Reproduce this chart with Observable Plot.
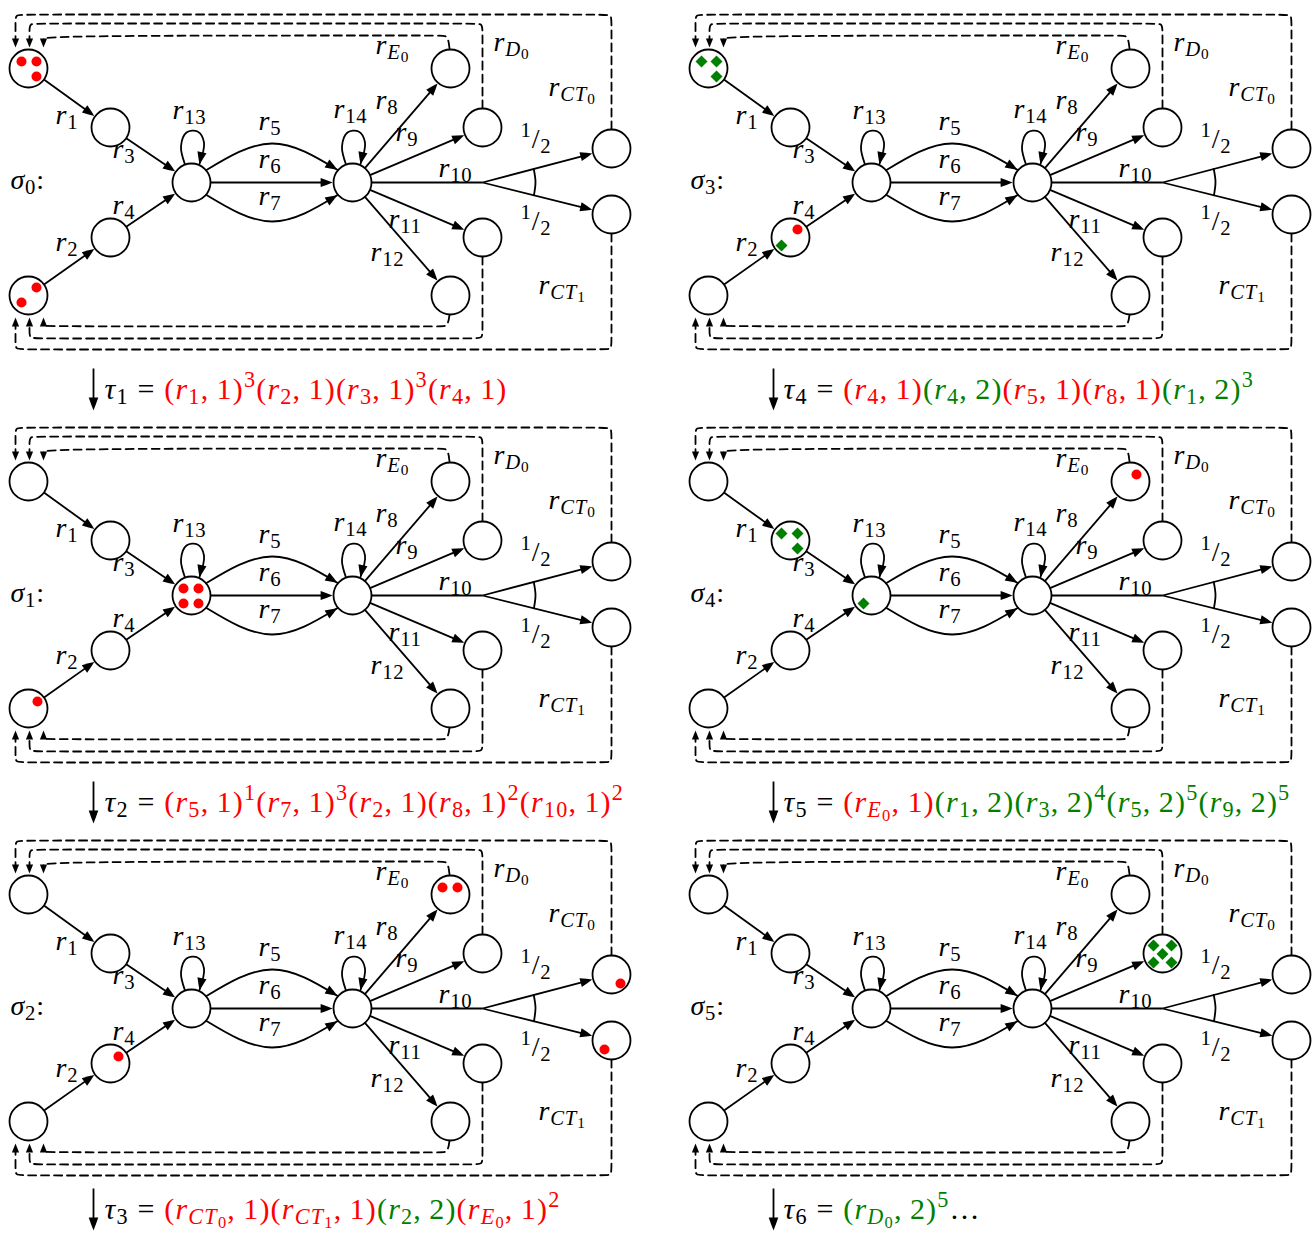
<!DOCTYPE html>
<html><head><meta charset="utf-8">
<script src="https://cdn.jsdelivr.net/npm/d3@7"></script>
<script src="https://cdn.jsdelivr.net/npm/@observablehq/plot@0.6"></script>
<style>
html,body{margin:0;padding:0;background:#fff;}
svg{display:block;}
</style>
</head><body><div id="chart"></div>
<script>
// ---------------- data ----------------
const RED = "#ff0000", GREEN = "#008000";
const FONT = "'Liberation Serif','Times New Roman',serif";

// places of one net (local coordinates of a panel)
const nodeIds = ["A","B","C","D","E","F","G","H","I","J","K","L"];
const nodeX   = [28, 110, 191, 110, 28, 352, 450, 482, 482, 450, 611, 611];
const nodeY   = [68, 127, 182, 237, 295, 182, 68, 127, 237, 295, 148, 214];

// straight reaction arcs
const edgeFrom = ["A","B","E","D","C","F","F","F","F"];
const edgeTo   = ["B","C","D","C","F","G","H","I","J"];
// bent arcs C -> F (r5 above, r7 below)
const bentSign = [-1, 1];
// self loops r13, r14
const loopNodes = ["C","F"];
const loopDX = [-6.5, -10.5, -5, 6, 12.5, 8];
const loopDY = [-18, -36, -50, -51, -40, -18.5];
// r10 split point and its two branches
const splitX = 482, splitY = 182;
const splitTargets = ["K","L"];

// dashed feedback paths (local coordinates)
const dashPaths = [
  [[611,129],[611,22],[611,14],[603,14],[23,14],[15,14],[15,22],[15,39]],
  [[482,108],[482,31],[482,23],[474,23],[37,23],[29,23],[29,31],[29,39]],
  [[449,48],[448,39],[445,35],[440,35],[43,35],[43,39]],
  [[611,233],[611,341],[611,349],[603,349],[23,349],[15,349],[15,341],[15,325]],
  [[482,256],[482,330],[482,338],[474,338],[37,338],[29,338],[29,330],[29,325]],
  [[449,314],[448,322],[445,326],[440,326],[43,326],[43,325]]
];
const dashTipX = [15, 29, 43, 15, 29, 43];
const dashTipY = [47, 47, 47, 317, 317, 317];
const dashTipDir = [180, 180, 180, 0, 0, 0];

// labels of a net
const labelText = ["r_{1}","r_{3}","r_{2}","r_{4}","r_{13}","r_{5}","r_{6}","r_{7}","r_{14}","r_{8}","r_{9}","r_{10}","r_{11}","r_{12}","r_{E_{0}}","r_{D_{0}}","r_{CT_{0}}","r_{CT_{1}}","^{1}/_{2}","^{1}/_{2}"];
const labelX = [55,112,55,112,172,258,258,258,333,375,395,438,388,370,375,493,548,538,520,520];
const labelY = [123,157,250,213,118,129,167,204,117,108,140,176,227,260,53,50,95,293,147,229];

// panels (markings)
const panelName = ["σ_{0}:","σ_{1}:","σ_{2}:","σ_{3}:","σ_{4}:","σ_{5}:"];
const panelCol = [0,0,0,1,1,1];
const panelRow = [0,1,2,0,1,2];
const colOffset = [0, 680];
const rowOffset = [0, 413, 826];

// tokens: [panel, place, kind, dx, dy]
const tokens = [
  [0,"A","dot",-7,-7],[0,"A","dot",8,-7],[0,"A","dot",8,8],
  [0,"E","dot",8,-8],[0,"E","dot",-7,7],
  [1,"C","dot",-8,-7],[1,"C","dot",7,-7],[1,"C","dot",-8,8],[1,"C","dot",7,8],
  [1,"E","dot",9,-7],
  [2,"G","dot",-8,-7],[2,"G","dot",7,-7],
  [2,"D","dot",8,-7],
  [2,"K","dot",9,9],[2,"L","dot",-7,9],
  [3,"A","diamond",-7,-7],[3,"A","diamond",8,-7],[3,"A","diamond",8,8],
  [3,"D","dot",7,-8],[3,"D","diamond",-9,8],
  [4,"B","diamond",-9,-7],[4,"B","diamond",7,-7],[4,"B","diamond",7,8],
  [4,"C","diamond",-8,8],
  [4,"G","dot",6,-7],
  [5,"H","diamond",-9,-8],[5,"H","diamond",9,-8],[5,"H","diamond",0,0.5],[5,"H","diamond",-9,9],[5,"H","diamond",9,9]
];

// transitions between markings
const formulaText = [
  "#Kτ_{1} = #R(r_{1},\u20091)^{3}(r_{2},\u20091)(r_{3},\u20091)^{3}(r_{4},\u20091)",
  "#Kτ_{2} = #R(r_{5},\u20091)^{1}(r_{7},\u20091)^{3}(r_{2},\u20091)(r_{8},\u20091)^{2}(r_{10},\u20091)^{2}",
  "#Kτ_{3} = #R(r_{CT_{0}},\u20091)(r_{CT_{1}},\u20091)#G(r_{2},\u20092)#R(r_{E_{0}},\u20091)^{2}",
  "#Kτ_{4} = #R(r_{4},\u20091)#G(r_{4},\u20092)#R(r_{5},\u20091)(r_{8},\u20091)#G(r_{1},\u20092)^{3}",
  "#Kτ_{5} = #R(r_{E_{0}},\u20091)#G(r_{1},\u20092)(r_{3},\u20092)^{4}(r_{5},\u20092)^{5}(r_{9},\u20092)^{5}",
  "#Kτ_{6} = #G(r_{D_{0}},\u20092)^{5}#K…"
];
const formulaCol = [0,0,0,1,1,1];
const formulaRow = [0,1,2,0,1,2];
const formulaX = [104, 783];
const formulaArrowX = [93, 773];
const formulaBase = [398, 811, 1218];

// ---------------- geometry helpers ----------------
const R = 19;
const node = id => { const i = nodeIds.indexOf(id); return [nodeX[i], nodeY[i]]; };
const toward = (c, q, r) => { const dx = q[0]-c[0], dy = q[1]-c[1], d = Math.hypot(dx, dy); return [c[0]+dx/d*r, c[1]+dy/d*r]; };
const rot = (dx, dy) => Math.atan2(dx, -dy) * 180 / Math.PI;

const circles = [], links = [], curves = [], heads = [], smallHeads = [], dashes = [], labels = [], dots = [], diamonds = [];
let cid = 0;
panelName.forEach((name, p) => {
  const ox = colOffset[panelCol[p]], oy = rowOffset[panelRow[p]];
  nodeIds.forEach((id, i) => circles.push({x: nodeX[i]+ox, y: nodeY[i]+oy}));
  edgeFrom.forEach((f, i) => {
    const a = node(f), b = node(edgeTo[i]);
    const s = toward(a, b, R), t = toward(b, a, R + 0.9);
    const d = Math.hypot(t[0]-s[0], t[1]-s[1]), ux = (t[0]-s[0])/d, uy = (t[1]-s[1])/d;
    links.push({x1: s[0]+ox, y1: s[1]+oy, x2: t[0]-ux*5+ox, y2: t[1]-uy*5+oy});
    heads.push({x: t[0]+ox, y: t[1]+oy, r: rot(ux, uy)});
  });
  bentSign.forEach(sg => {
    const c = node("C"), f = node("F"), a = 40*Math.PI/180;
    const P0 = [c[0]+R*Math.cos(a), c[1]+sg*R*Math.sin(a)];
    const P2 = [f[0]-(R+0.9)*Math.cos(a), f[1]+sg*(R+0.9)*Math.sin(a)];
    const P1 = [(c[0]+f[0])/2, c[1]+sg*39];
    const id = "b"+(cid++);
    [P0, P1, P2].forEach(q => curves.push({id, x: q[0]+ox, y: q[1]+oy, kind: "natural"}));
    const dx = (P2[0]-P1[0]) + 0.25*(P0[0]-2*P1[0]+P2[0]);
    const dy = (P2[1]-P1[1]) + 0.25*(P0[1]-2*P1[1]+P2[1]);
    heads.push({x: P2[0]+ox, y: P2[1]+oy, r: rot(dx, dy)});
  });
  loopNodes.forEach(n => {
    const c = node(n), id = "l"+(cid++);
    loopDX.forEach((dx, k) => curves.push({id, x: c[0]+dx+ox, y: c[1]+loopDY[k]+oy, kind: "loop"}));
    const k = loopDX.length-1;
    heads.push({x: c[0]+loopDX[k]+ox, y: c[1]+loopDY[k]+oy, r: rot(loopDX[k]-loopDX[k-1], loopDY[k]-loopDY[k-1])});
  });
  const f = node("F"), m = [splitX, splitY];
  const s10 = toward(f, m, R);
  links.push({x1: s10[0]+ox, y1: s10[1]+oy, x2: m[0]+ox, y2: m[1]+oy});
  const angs = [];
  splitTargets.forEach(tg => {
    const k = node(tg), t = toward(k, m, R+0.9);
    const d = Math.hypot(t[0]-m[0], t[1]-m[1]), ux = (t[0]-m[0])/d, uy = (t[1]-m[1])/d;
    angs.push(Math.atan2(uy, ux));
    links.push({x1: m[0]+ox, y1: m[1]+oy, x2: t[0]-ux*5+ox, y2: t[1]-uy*5+oy});
    heads.push({x: t[0]+ox, y: t[1]+oy, r: rot(ux, uy)});
  });
  const arcId = "a"+(cid++), ar = 53;
  [angs[0], (angs[0]+angs[1])/2, angs[1]].forEach(g => curves.push({id: arcId, x: m[0]+ar*Math.cos(g)+ox, y: m[1]+ar*Math.sin(g)+oy, kind: "natural"}));
  dashPaths.forEach((path, j) => {
    const id = "d"+(cid++);
    path.forEach(q => dashes.push({id, x: q[0]+ox, y: q[1]+oy}));
    smallHeads.push({x: dashTipX[j]+ox, y: dashTipY[j]+oy, r: dashTipDir[j]});
  });
  labelText.forEach((t, i) => labels.push({x: labelX[i]+ox, y: labelY[i]+oy, t}));
  labels.push({x: 10+ox, y: 188+oy, t: name});
});
tokens.forEach(([p, n, kind, dx, dy]) => {
  const c = node(n), ox = colOffset[panelCol[p]], oy = rowOffset[panelRow[p]];
  (kind === "dot" ? dots : diamonds).push({x: c[0]+dx+ox, y: c[1]+dy+oy});
});
const formulas = formulaText.map((t, i) => ({t, x: formulaX[formulaCol[i]], y: formulaBase[formulaRow[i]]}));
const fArrows = formulaText.map((t, i) => ({x: formulaArrowX[formulaCol[i]], y1: formulaBase[formulaRow[i]]-30, y2: formulaBase[formulaRow[i]]+5, tip: formulaBase[formulaRow[i]]+12}));

const latexHead = {draw(ctx) { ctx.moveTo(0,0); ctx.quadraticCurveTo(-2.2,5,-4.6,12); ctx.lineTo(4.6,12); ctx.quadraticCurveTo(2.2,5,0,0); ctx.closePath(); }};
const smallHead = {draw(ctx) { ctx.moveTo(0,0); ctx.lineTo(-3.6,9); ctx.lineTo(3.6,9); ctx.closePath(); }};
const bigHead = {draw(ctx) { ctx.moveTo(0,0); ctx.quadraticCurveTo(-2.4,6,-4.8,13); ctx.lineTo(4.8,13); ctx.quadraticCurveTo(2.4,6,0,0); ctx.closePath(); }};

const SW = 1.8;
const svg = Plot.plot({
  width: 1315, height: 1233, margin: 0,
  x: {type: "linear", domain: [0, 1315], range: [0, 1315], axis: null},
  y: {type: "linear", domain: [0, 1233], range: [0, 1233], axis: null},
  style: {background: "#fff"},
  marks: [
    Plot.line(dashes, {x: "x", y: "y", z: "id", curve: "basis", stroke: "#000", strokeWidth: SW, strokeDasharray: "8,5"}),
    Plot.dot(smallHeads, {x: "x", y: "y", rotate: "r", symbol: smallHead, fill: "#000", stroke: "none"}),
    Plot.link(links, {x1: "x1", y1: "y1", x2: "x2", y2: "y2", stroke: "#000", strokeWidth: SW}),
    Plot.line(curves.filter(d => d.kind === "natural"), {x: "x", y: "y", z: "id", curve: "natural", stroke: "#000", strokeWidth: SW}),
    Plot.line(curves.filter(d => d.kind === "loop"), {x: "x", y: "y", z: "id", curve: "catmull-rom", stroke: "#000", strokeWidth: SW}),
    Plot.dot(heads, {x: "x", y: "y", rotate: "r", symbol: latexHead, fill: "#000", stroke: "none"}),
    Plot.dot(circles, {x: "x", y: "y", r: R, fill: "#fff", stroke: "#000", strokeWidth: SW}),
    Plot.dot(dots, {x: "x", y: "y", r: 5, fill: RED, stroke: "none"}),
    Plot.dot(diamonds, {x: "x", y: "y", r: 5.4, symbol: "diamond2", fill: GREEN, stroke: "none"}),
    Plot.text(labels, {x: "x", y: "y", text: "t", textAnchor: "start", lineAnchor: "bottom", fontSize: 28, fontFamily: FONT, fill: "#000"}),
    Plot.link(fArrows, {x1: "x", y1: "y1", x2: "x", y2: "y2", stroke: "#000", strokeWidth: SW}),
    Plot.dot(fArrows, {x: "x", y: "tip", rotate: 180, symbol: bigHead, fill: "#000", stroke: "none"}),
    Plot.text(formulas, {x: "x", y: "y", text: "t", textAnchor: "start", lineAnchor: "bottom", fontSize: 30, fontFamily: FONT, fill: "#000"})
  ]
});

// TeX-like typesetting of the label strings: italic letters, sub/superscripts, colours
function typeset(str, base) {
  const runs = []; let color = "#000";
  (function walk(s, size, shift) {
    let i = 0;
    while (i < s.length) {
      const ch = s[i];
      if (ch === "#") { const c = s[i+1]; color = c === "R" ? RED : c === "G" ? GREEN : "#000"; i += 2; continue; }
      if (ch === "_" || ch === "^") {
        let j = i+1, grp;
        if (s[j] === "{") { let depth = 1, k = j+1; while (depth > 0 && k < s.length) { if (s[k] === "{") depth++; else if (s[k] === "}") depth--; k++; } grp = s.slice(j+1, k-1); i = k; }
        else { grp = s[j]; i = j+1; }
        walk(grp, size*0.74, ch === "_" ? shift + size*0.18 : shift - size*0.38);
        continue;
      }
      const italic = /[A-Za-z\u0370-\u03ff]/.test(ch);
      const last = runs[runs.length-1];
      if (last && last.size === size && last.shift === shift && last.italic === italic && last.color === color) last.t += ch;
      else runs.push({t: ch, size, shift, italic, color});
      i++;
    }
  })(str, base, 0);
  return runs;
}
svg.querySelectorAll("text").forEach(t => {
  const g = t.closest("g");
  const base = parseFloat(g && g.getAttribute("font-size")) || 28;
  const runs = typeset(t.textContent, base);
  t.textContent = "";
  t.setAttribute("style", "white-space:pre");
  t.setAttribute("letter-spacing", base >= 30 ? "1.2" : "0.8");
  let prev = 0;
  runs.forEach(r => {
    const ts = document.createElementNS("http://www.w3.org/2000/svg", "tspan");
    ts.setAttribute("font-size", r.size);
    ts.setAttribute("font-style", r.italic ? "italic" : "normal");
    ts.setAttribute("fill", r.color);
    if (r.shift !== prev) ts.setAttribute("dy", (r.shift - prev).toFixed(2));
    prev = r.shift;
    ts.textContent = r.t;
    t.appendChild(ts);
  });
});
document.getElementById("chart").appendChild(svg);
</script>
</body></html>
